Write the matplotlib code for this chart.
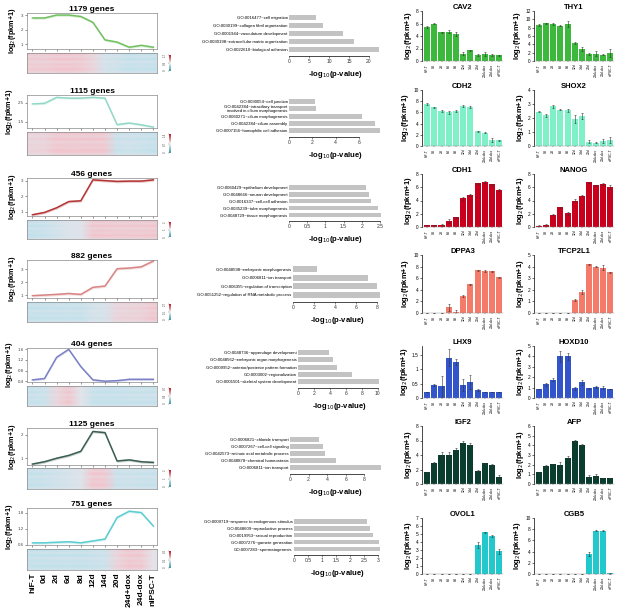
import matplotlib.pyplot as plt
import numpy as np
from matplotlib.colors import LinearSegmentedColormap

plt.rcParams['font.family'] = ['Liberation Sans', 'DejaVu Sans']

W, H = 617, 609

samples = ["hiF-T", "0d", "2d", "6d", "8d", "12d", "14d", "20d", "24d+dox", "24d-dox", "niPSC-T"]

# cluster mean profiles (log2(fpkm+1))
c1_title = "1179 genes"
c1_mean = [2.8, 2.8, 3.0, 3.0, 2.9, 2.5, 1.3, 1.15, 0.8, 0.93, 0.8]
c2_title = "1115 genes"
c2_mean = [2.45, 2.48, 2.8, 2.76, 2.76, 2.8, 2.76, 1.33, 1.42, 1.32, 1.2]
c3_title = "456 genes"
c3_mean = [0.8, 0.95, 1.25, 1.65, 1.7, 3.05, 3.0, 2.95, 2.97, 2.97, 3.05]
c4_title = "882 genes"
c4_mean = [0.95, 1.0, 1.05, 1.12, 1.05, 1.6, 1.7, 3.05, 3.1, 3.2, 3.65]
c5_title = "404 genes"
c5_mean = [0.45, 0.5, 1.3, 1.6, 0.95, 0.45, 0.4, 0.42, 0.47, 0.47, 0.47]
c6_title = "1125 genes"
c6_mean = [0.75, 0.85, 1.0, 1.12, 1.3, 2.15, 2.1, 0.88, 0.93, 0.85, 0.82]
c7_title = "751 genes"
c7_mean = [0.68, 0.68, 0.7, 0.72, 0.68, 0.75, 0.82, 1.62, 1.85, 1.8, 1.3]

c_yticks = [[1, 2, 3], [1.5, 2.5], [1, 2, 3], [1, 2, 3], [0.4, 0.8, 1.2, 1.6], [1, 2], [0.6, 1.2, 1.8]]
c_ylims = [(0.68, 3.14), (1.15, 2.93), (0.72, 3.17), (0.77, 3.73), (0.37, 1.65), (0.71, 2.3), (0.6, 1.97)]
c_colors = ["#72c062", "#92d8c6", "#b33535", "#d88585", "#7b80c6", "#3b5e50", "#5ccdd0"]
c_cbar_labels = [["0", "0.9", "1.7"], ["0", "0.7", "1.4"], ["0", "1", "2"], ["0", "1.5", "2.7"],
                 ["0", "0.4", "0.7"], ["0", "1", "2"], ["0", "0.1", "0.2"]]
# per-gene row weights of the heatmaps (stripes)
hm_rows = [0.9, 0.55, 1.0, 0.5, 0.85, 0.65, 1.0, 0.6]

# GO enrichment
go1_terms = ["GO:0016477~cell migration", "GO:0030199~collagen fibril organization",
             "GO:0001944~vasculature development", "GO:0030198~extracellular matrix organization",
             "GO:0022610~biological adhesion"]
go1_vals = [6.8, 8.5, 13.5, 16.2, 22.5]
go2_terms = ["GO:0030054~cell junction",
             "GO:0042384~intraciliary transport\ninvolved in cilium morphogenesis",
             "GO:0060271~cilium morphogenesis", "GO:0042384~cilium assembly",
             "GO:0007156~homophilic cell adhesion"]
go2_vals = [2.2, 2.35, 6.3, 7.4, 7.8]
go3_terms = ["GO:0060429~epithelium development", "GO:0048666~neuron development",
             "GO:0016337~cell-cell adhesion", "GO:0035239~tube morphogenesis",
             "GO:0048729~tissue morphogenesis"]
go3_vals = [2.13, 2.2, 2.25, 2.45, 2.53]
go4_terms = ["GO:0048598~embryonic morphogenesis", "GO:0006811~ion transport",
             "GO:006355~regulation of transcription", "GO:0051252~regulation of RNA metabolic process"]
go4_vals = [2.25, 7.2, 8.05, 8.3]
go5_terms = ["GO:0048736~appendage development", "GO:0048562~embryonic organ morphogenesis",
             "GO:0009952~anterior/posterior pattern formation", "GO:0003002~regionalization",
             "GO:0001501~skeletal system development"]
go5_vals = [3.9, 4.4, 4.9, 6.8, 10.2]
go6_terms = ["GO:0006821~chloride transport", "GO:0007267~cell-cell signaling",
             "GO:0042573~retinoic acid metabolic process", "GO:0048878~chemical homeostasis",
             "GO:0006811~ion transport"]
go6_vals = [3.1, 3.5, 3.8, 4.9, 9.8]
go7_terms = ["GO:0009719~response to endogenous stimulus", "GO:0048609~reproductive process",
             "GO:0019953~sexual reproduction", "GO:0007276~gamete generation",
             "GO:0007283~spermatogenesis"]
go7_vals = [2.6, 2.7, 2.8, 3.02, 3.08]
go_ticks = [[0, 5, 10, 15, 20], [0, 2, 4, 6], [0, 0.5, 1, 1.5, 2, 2.5], [0, 2, 4, 6, 8],
            [0, 2, 4, 6, 8, 10], [0, 2, 4, 6, 8], [0, 0.5, 1, 1.5, 2, 2.5, 3]]
go_xmax = [23.0, 7.9, 2.53, 8.4, 10.4, 9.8, 3.1]

# marker genes
cav2 = [5.5, 6.0, 4.6, 4.7, 4.35, 1.2, 1.7, 1.0, 1.15, 1.0, 0.9]
cav2_err = [0.15, 0.1, 0.1, 0.2, 0.3, 0.3, 0.1, 0.2, 0.3, 0.2, 0.1]
thy1 = [8.6, 9.1, 8.9, 8.5, 8.8, 4.3, 2.9, 1.7, 1.7, 1.5, 1.9]
thy1_err = [0.2, 0.1, 0.2, 0.2, 0.7, 0.3, 0.4, 0.2, 0.6, 0.1, 1.0]
cdh2 = [7.5, 6.9, 6.2, 6.0, 6.3, 7.1, 7.0, 2.6, 2.4, 1.1, 1.0]
cdh2_err = [0.1, 0.1, 0.2, 0.3, 0.2, 0.2, 0.2, 0.1, 0.1, 0.4, 0.1]
shox2 = [2.45, 2.2, 2.85, 2.6, 2.55, 1.95, 2.15, 0.3, 0.25, 0.35, 0.45]
shox2_err = [0.05, 0.1, 0.1, 0.05, 0.1, 0.3, 0.2, 0.1, 0.05, 0.15, 0.2]
cdh1 = [0.3, 0.25, 0.3, 0.95, 1.45, 4.35, 4.85, 6.6, 6.8, 6.45, 5.6]
cdh1_err = [0.05, 0.05, 0.1, 0.3, 0.1, 0.2, 0.1, 0.1, 0.1, 0.1, 0.1]
nanog = [0.2, 0.3, 1.85, 2.95, 2.05, 4.0, 4.75, 6.75, 6.3, 6.5, 6.05]
nanog_err = [0.05, 0.1, 0.1, 0.1, 0.2, 0.2, 0.1, 0.1, 0.1, 0.1, 0.3]
dppa3 = [0, 0, 0, 1.0, 0.2, 2.95, 4.95, 7.4, 7.25, 7.2, 6.15]
dppa3_err = [0, 0, 0, 0.6, 0.3, 0.2, 0.1, 0.1, 0.1, 0.1, 0.1]
tfcp2l1 = [0, 0, 0, 0, 0, 1.1, 1.8, 4.2, 4.0, 3.9, 3.5]
tfcp2l1_err = [0, 0, 0, 0, 0, 0.1, 0.2, 0.05, 0.05, 0.2, 0.05]
lhx9 = [0.2, 0.45, 0.4, 1.4, 1.25, 0.45, 0.55, 0.27, 0.2, 0.2, 0.2]
lhx9_err = [0, 0.03, 0.35, 0.3, 0.1, 0.22, 0.25, 0.03, 0, 0, 0]
hoxd10 = [0.85, 1.3, 1.75, 4.0, 4.0, 0.95, 1.5, 0.92, 1.05, 1.0, 0.85]
hoxd10_err = [0, 0.15, 0.15, 0.5, 0.3, 0.15, 0.25, 0.05, 0.08, 0.15, 0.02]
igf2 = [1.6, 2.9, 4.0, 3.95, 4.75, 5.7, 5.4, 1.85, 2.85, 2.6, 1.0]
igf2_err = [0.1, 0.1, 0.4, 0.5, 0.2, 0.2, 0.2, 0.05, 0.1, 0.2, 0.3]
afp = [1.2, 1.85, 2.05, 2.0, 2.7, 4.45, 4.05, 0.75, 0.8, 0.6, 0.6]
afp_err = [0.05, 0.1, 0.05, 0.3, 0.2, 0.1, 0.1, 0.15, 0.2, 0, 0]
ovol1 = [0, 0, 0, 0, 0, 0, 0, 3.6, 5.2, 4.75, 2.85]
ovol1_err = [0, 0, 0, 0, 0, 0, 0, 0.4, 0.1, 0.15, 0.3]
cgb5 = [0, 0, 0, 0, 0, 0, 0, 3.55, 7.7, 7.7, 0.1]
cgb5_err = [0, 0, 0, 0, 0, 0, 0, 0.3, 0.1, 0.1, 0.05]

bar_colors = ["#3cb83c", "#7ff0c8", "#c8001e", "#f47a6a", "#3355cc", "#0b3d2e", "#22c8cc"]


fig = plt.figure(figsize=(W / 100, H / 100), dpi=100)


def box(x0, y0, x1, y1):
    return fig.add_axes([x0 / W, 1 - y1 / H, (x1 - x0) / W, (y1 - y0) / H])


hm_cmap = LinearSegmentedColormap.from_list("hm", ["#bfe1ec", "#e4e4ea", "#f3c2ca"])
cb_cmap = LinearSegmentedColormap.from_list("cb", ["#3f98a8", "#f4f4f4", "#c01828"])

# ---- left column: cluster profiles + heatmaps
means = [c1_mean, c2_mean, c3_mean, c4_mean, c5_mean, c6_mean, c7_mean]
titles = [c1_title, c2_title, c3_title, c4_title, c5_title, c6_title, c7_title]
line_boxes = [(13, 49, 53, 73), (95, 128, 132, 155), (178, 216, 220, 239), (260, 298, 302, 322),
              (348, 382, 386, 406), (428, 465, 468, 489), (508, 545, 549, 570)]
xs = np.arange(len(samples))
for i, (m, t, (lt, lb, ht, hb)) in enumerate(zip(means, titles, line_boxes)):
    m = np.array(m)
    ax = box(27, lt, 157, lb)
    band = (c_ylims[i][1] - c_ylims[i][0]) * 0.035
    ax.fill_between(xs, m - band, m + band, color=c_colors[i], alpha=0.25, lw=0)
    ax.plot(xs, m, color=c_colors[i], lw=1.1)
    ax.set_xlim(-0.45, 10.3)
    ax.set_ylim(*c_ylims[i])
    ax.set_yticks(c_yticks[i])
    ax.set_yticklabels([f"{v:g}" for v in c_yticks[i]])
    ax.set_xticks(xs)
    ax.set_xticklabels([])
    ax.tick_params(labelsize=3.2, length=1.5, width=0.4, pad=1, colors="#444444")
    for s in ax.spines.values():
        s.set_linewidth(0.5)
        s.set_color("#888888")
    ax.set_title(t, fontsize=6, fontweight="bold", pad=1.5)
    ax.set_ylabel(r"log$_2$(fpkm+1)", fontsize=5.2, fontweight="bold", labelpad=2)

    hm = box(27, ht, 157, hb)
    norm = (m - m.min()) / (m.max() - m.min())
    rows = np.array([0.5 + (norm - 0.5) * w for w in hm_rows])
    hm.imshow(rows, cmap=hm_cmap, aspect="auto", vmin=0, vmax=1,
              extent=(-0.5, len(samples) - 0.5, len(hm_rows), 0), interpolation="bilinear")
    hm.set_xlim(-0.45, 10.3)
    hm.set_yticks([])
    for s in hm.spines.values():
        s.set_linewidth(0.5)
        s.set_color("#888888")
    if i == len(means) - 1:
        hm.set_xticks(xs)
        hm.set_xticklabels(samples, rotation=90, fontsize=6, fontweight="bold")
        hm.tick_params(axis="x", length=0, pad=2)
    else:
        hm.set_xticks([])

    cb = box(168.5, ht + 2, 170, hb - 2)
    cb.imshow(np.linspace(1, 0, 50)[:, None], cmap=cb_cmap, aspect="auto", extent=(0, 1, 0, 1))
    cb.set_xticks([])
    cb.set_yticks([0.02, 0.5, 0.98])
    cb.set_yticklabels(c_cbar_labels[i], rotation=90, va="center")
    cb.tick_params(labelsize=2.2, length=1, width=0.3, pad=0.5, colors="#555555")
    for s in cb.spines.values():
        s.set_visible(False)

# ---- middle column: GO enrichment bars
go_terms = [go1_terms, go2_terms, go3_terms, go4_terms, go5_terms, go6_terms, go7_terms]
go_vals = [go1_vals, go2_vals, go3_vals, go4_vals, go5_vals, go6_vals, go7_vals]
go_boxes = [(289, 13, 56), (289, 97, 137), (289, 183, 221), (293, 264, 302),
            (298, 348, 388), (290, 435, 474), (294, 517, 555)]
for terms, vals, ticks, xmax, (x0, top, bot) in zip(go_terms, go_vals, go_ticks, go_xmax, go_boxes):
    ax = box(x0, top, 381, bot)
    n = len(terms)
    y = np.arange(n)
    ax.barh(y, vals, height=0.68, color="#c3c3c3")
    ax.set_ylim(n - 0.5 + 0.35, -0.6)
    ax.set_xlim(0, xmax)
    ax.set_yticks(y)
    ax.set_yticklabels(terms, fontsize=3.1, linespacing=0.9)
    ax.tick_params(axis="y", length=0, pad=1)
    ax.set_xticks(ticks)
    ax.set_xticklabels([f"{v:g}" for v in ticks])
    ax.tick_params(axis="x", labelsize=3.6, length=1.5, width=0.4, pad=1, colors="#333333")
    for s in ["left", "right", "top"]:
        ax.spines[s].set_visible(False)
    ax.spines["bottom"].set_linewidth(0.5)
    ax.spines["bottom"].set_bounds(0, ticks[-1])
    ax.set_xlabel(r"-log$_{10}$(p-value)", fontsize=5.5, fontweight="bold", labelpad=3)

# ---- right column: marker gene bars
genes = [("CAV2", cav2, cav2_err, 8, 2), ("THY1", thy1, thy1_err, 12, 2),
         ("CDH2", cdh2, cdh2_err, 10, 2), ("SHOX2", shox2, shox2_err, 4, 1),
         ("CDH1", cdh1, cdh1_err, 8, 2), ("NANOG", nanog, nanog_err, 8, 2),
         ("DPPA3", dppa3, dppa3_err, 10, 2), ("TFCP2L1", tfcp2l1, tfcp2l1_err, 5, 1),
         ("LHX9", lhx9, lhx9_err, 1.5, 0.5), ("HOXD10", hoxd10, hoxd10_err, 5, 1),
         ("IGF2", igf2, igf2_err, 8, 2), ("AFP", afp, afp_err, 6, 1),
         ("OVOL1", ovol1, ovol1_err, 7, 1), ("CGB5", cgb5, cgb5_err, 10, 2)]
row_y = [(11, 61), (90, 146), (174, 227), (255, 313), (346, 398), (426, 484), (518, 574)]
col_x = [(422, 503), (534, 614)]
for k, (name, vals, errs, ymax, step) in enumerate(genes):
    r, c = divmod(k, 2)
    ax = box(col_x[c][0], row_y[r][0], col_x[c][1], row_y[r][1])
    ax.bar(xs, vals, width=0.84, color=bar_colors[r], yerr=errs,
           error_kw=dict(elinewidth=0.4, capsize=0.8, capthick=0.4, ecolor="#333333"))
    if name == "LHX9":
        ax.set_ylim(0, 1.8)
    else:
        ax.set_ylim(0, ymax)
    ax.set_xlim(-0.7, 10.5)
    yt = np.arange(0, ymax + step / 2, step)
    ax.set_yticks(yt)
    ax.set_yticklabels([f"{v:g}" for v in yt])
    ax.set_xticks(xs)
    ax.set_xticklabels(samples, rotation=90, fontsize=2.4)
    ax.tick_params(axis="y", labelsize=3.4, length=1.5, width=0.4, pad=1)
    ax.tick_params(axis="x", length=1, width=0.3, pad=1)
    for s in ["right", "top"]:
        ax.spines[s].set_visible(False)
    ax.spines["left"].set_linewidth(0.5)
    ax.spines["bottom"].set_linewidth(0.3)
    ax.spines["bottom"].set_color("#888888")
    ax.set_title(name, fontsize=5.5, fontweight="bold", pad=1.5)
    ax.set_ylabel(r"log$_2$(fpkm+1)", fontsize=5.5, fontweight="bold", labelpad=1.5)

fig.savefig("out.png", dpi=100)
